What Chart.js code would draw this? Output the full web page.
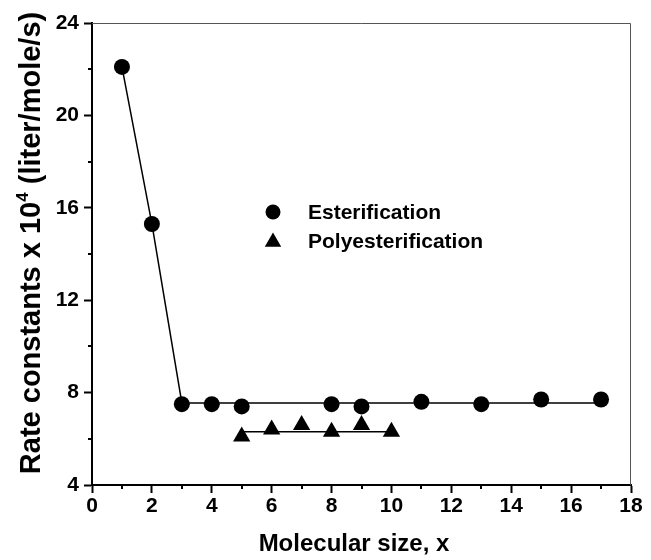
<!DOCTYPE html>
<html>
<head>
<meta charset="utf-8">
<script src="https://cdn.jsdelivr.net/npm/chart.js@4/dist/chart.umd.min.js"></script>
<style>
html, body { margin: 0; padding: 0; background: #fff; }
</style>
</head>
<body>
<canvas id="rateChart" width="651" height="560"></canvas>
<script>
// measured points
var esterX = [1, 2, 3, 4, 5, 8, 9, 11, 13, 15, 17];
var esterY = [22.1, 15.3, 7.5, 7.5, 7.4, 7.5, 7.4, 7.6, 7.5, 7.7, 7.7];
var polyX = [5, 6, 7, 8, 9, 10];
var polyY = [6.1, 6.4, 6.6, 6.3, 6.6, 6.3];

// guide lines drawn through the points
var esterFitX = [1, 2, 3, 17];
var esterFitY = [22.1, 15.3, 7.55, 7.55];
var polyFitX = [5, 10];
var polyFitY = [6.3, 6.3];

var xTicks = [0, 2, 4, 6, 8, 10, 12, 14, 16, 18];
var xMinor = [1, 3, 5, 7, 9, 11, 13, 15, 17];
var yTicks = [4, 8, 12, 16, 20, 24];
var yMinor = [6, 10, 14, 18, 22];
var seriesNames = ['Esterification', 'Polyesterification'];
var xTitle = 'Molecular size, x';
var yTitleParts = ['Rate constants x 10', '4', ' (liter/mole/s)'];

var FONT = '"Liberation Sans", Arial, sans-serif';

function pts(xs, ys) {
    return xs.map(function (x, i) { return {x: x, y: ys[i]}; });
}

// minor ticks, top/right frame, axis titles and the in-plot legend
var extras = {
    id: 'extras',
    afterDraw: function (chart) {
        var ctx = chart.ctx;
        var a = chart.chartArea;
        var xs = chart.scales.x, ys = chart.scales.y;
        ctx.save();
        ctx.strokeStyle = '#000';
        ctx.lineWidth = 2;
        xMinor.forEach(function (v) {
            var px = Math.round(xs.getPixelForValue(v));
            ctx.beginPath();
            ctx.moveTo(px, a.bottom);
            ctx.lineTo(px, a.bottom + 4);
            ctx.stroke();
        });
        yMinor.forEach(function (v) {
            var py = Math.round(ys.getPixelForValue(v));
            ctx.beginPath();
            ctx.moveTo(a.left, py);
            ctx.lineTo(a.left - 4, py);
            ctx.stroke();
        });
        ctx.strokeStyle = '#555';
        ctx.lineWidth = 1;
        ctx.beginPath();
        ctx.moveTo(a.left, a.top + 0.5);
        ctx.lineTo(a.right - 0.5, a.top + 0.5);
        ctx.lineTo(a.right - 0.5, a.bottom);
        ctx.stroke();

        ctx.fillStyle = '#000';

        // x title
        ctx.font = 'bold 24px ' + FONT;
        ctx.textAlign = 'center';
        ctx.textBaseline = 'middle';
        ctx.fillText(xTitle, 354, 544);

        // y title with a raised exponent
        var big = 'bold 29px ' + FONT, small = 'bold 17px ' + FONT;
        ctx.font = big;
        var w0 = ctx.measureText(yTitleParts[0]).width;
        var w2 = ctx.measureText(yTitleParts[2]).width;
        ctx.font = small;
        var w1 = ctx.measureText(yTitleParts[1]).width;
        var total = w0 + w1 + w2;
        ctx.save();
        ctx.translate(30, 243);
        ctx.rotate(-Math.PI / 2);
        ctx.textAlign = 'left';
        ctx.textBaseline = 'alphabetic';
        var sx = -total / 2, base = 10;
        ctx.font = big;
        ctx.fillText(yTitleParts[0], sx, base);
        ctx.font = small;
        ctx.fillText(yTitleParts[1], sx + w0, base - 12);
        ctx.font = big;
        ctx.fillText(yTitleParts[2], sx + w0 + w1, base);
        ctx.restore();

        // legend
        var lx = 273, ly = 212, gap = 29;
        Chart.helpers.drawPoint(ctx, {pointStyle: 'circle', radius: 7.5, borderWidth: 0}, lx, ly);
        Chart.helpers.drawPoint(ctx, {pointStyle: 'triangle', radius: 9.5, borderWidth: 0}, lx, ly + gap + 1);
        ctx.font = 'bold 21px ' + FONT;
        ctx.textBaseline = 'middle';
        ctx.textAlign = 'left';
        ctx.fillText(seriesNames[0], 308, ly + 1);
        ctx.fillText(seriesNames[1], 308, ly + gap + 1);
        ctx.restore();
    }
};

var chrt = document.getElementById('rateChart').getContext('2d');
var chartId = new Chart(chrt, {
    type: 'scatter',
    data: {
        datasets: [{
            label: 'esterFit',
            data: pts(esterFitX, esterFitY),
            showLine: true,
            borderColor: '#000',
            borderWidth: 1.5,
            pointRadius: 0
        }, {
            label: 'polyFit',
            data: pts(polyFitX, polyFitY),
            showLine: true,
            borderColor: '#000',
            borderWidth: 1.5,
            pointRadius: 0
        }, {
            label: seriesNames[0],
            data: pts(esterX, esterY),
            pointStyle: 'circle',
            pointRadius: 8,
            backgroundColor: '#000',
            borderWidth: 0
        }, {
            label: seriesNames[1],
            data: pts(polyX, polyY),
            pointStyle: 'triangle',
            pointRadius: 10,
            backgroundColor: '#000',
            borderWidth: 0
        }]
    },
    options: {
        responsive: false,
        animation: false,
        layout: {
            padding: {top: 23, right: 20, left: 0, bottom: 0}
        },
        scales: {
            x: {
                type: 'linear',
                min: 0,
                max: 18,
                afterBuildTicks: function (scale) {
                    scale.ticks = xTicks.map(function (v) { return {value: v}; });
                },
                afterFit: function (scale) { scale.height = 75; },
                ticks: {
                    color: '#000',
                    padding: 1,
                    maxRotation: 0,
                    font: {family: FONT, size: 21, weight: 'bold'}
                },
                grid: {
                    drawOnChartArea: false,
                    drawTicks: true,
                    tickLength: 8,
                    tickWidth: 2,
                    tickColor: '#000'
                },
                border: {color: '#000', width: 2}
            },
            y: {
                type: 'linear',
                min: 4,
                max: 24,
                afterBuildTicks: function (scale) {
                    scale.ticks = yTicks.map(function (v) { return {value: v}; });
                },
                afterFit: function (scale) { scale.width = 92; },
                ticks: {
                    color: '#000',
                    padding: 5,
                    font: {family: FONT, size: 21, weight: 'bold'}
                },
                grid: {
                    drawOnChartArea: false,
                    drawTicks: true,
                    tickLength: 8,
                    tickWidth: 2,
                    tickColor: '#000'
                },
                border: {color: '#000', width: 2}
            }
        },
        plugins: {
            legend: {display: false},
            tooltip: {enabled: false}
        }
    },
    plugins: [extras]
});
</script>
</body>
</html>
